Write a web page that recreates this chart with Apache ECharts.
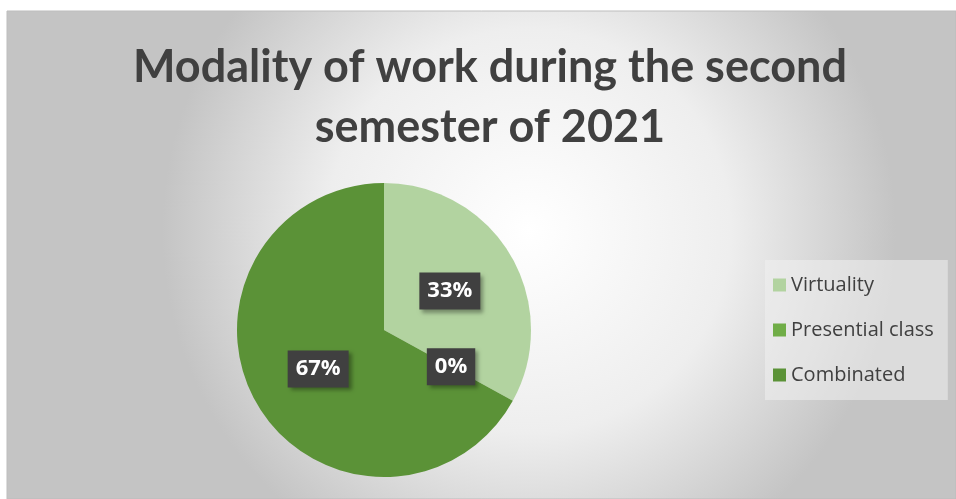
<!DOCTYPE html>
<html>
<head>
<meta charset="utf-8">
<script src="https://cdn.jsdelivr.net/npm/echarts@6/dist/echarts.min.js"></script>
<style>html,body{margin:0;padding:0;background:#fff}#c{width:956px;height:499px}</style>
</head>
<body>
<div id="c"></div>
<script>
const titleText = "Modality of work during the second\nsemester of 2021";
const categories = ["Virtuality", "Presential class", "Combinated"];
const values = [33, 0, 67];
const colors = ["#b2d3a0", "#70ad47", "#5b9237"];

const chart = echarts.init(document.getElementById('c'), null, {renderer: 'canvas'});
chart.setOption({
  animation: false,
  graphic: [{
    type: 'rect', z: -10, silent: true,
    shape: {x: 7, y: 11, width: 949, height: 488},
    style: {
      fill: new echarts.graphic.RadialGradient(0.55, 0.45, 0.75, [
        {offset: 0, color: '#ffffff'},
        {offset: 0.55, color: '#eeeeee'},
        {offset: 1, color: '#c4c4c4'}
      ]),
      stroke: '#bdbdbd', lineWidth: 1
    }
  }],
  title: {
    text: titleText,
    left: 485, top: 32, textAlign: 'center',
    textStyle: {fontFamily: 'Lato', fontWeight: 'bold', fontSize: 45, color: '#404040', lineHeight: 60}
  },
  legend: {
    orient: 'vertical',
    left: 765, top: 260,
    width: 185,
    backgroundColor: 'rgba(240,240,240,0.55)',
    padding: [14, 14, 14, 8],
    itemWidth: 13, itemHeight: 13,
    itemGap: 23,
    icon: 'rect',
    textStyle: {fontFamily: 'Open Sans', fontSize: 20, color: '#404040', lineHeight: 22},
    data: categories
  },
  series: [{
    type: 'pie',
    center: [384, 330],
    radius: 147,
    startAngle: 90,
    clockwise: true,
    avoidLabelOverlap: false,
    minShowLabelAngle: 0,
    stillShowZeroSum: true,
    itemStyle: {borderWidth: 0},
    label: {
      show: true,
      position: 'inside',
      formatter: p => p.value + '%',
      fontFamily: 'Open Sans', fontWeight: 'bold', fontSize: 22, color: '#ffffff',
      backgroundColor: '#404040',
      padding: [8, 8, 7, 8],
      shadowColor: 'rgba(0,0,0,0.35)', shadowBlur: 4, shadowOffsetX: 3, shadowOffsetY: 3
    },
    labelLine: {show: false},
    emphasis: {disabled: true},
    data: categories.map((c, i) => ({name: c, value: values[i], itemStyle: {color: colors[i]}}))
  }]
});
</script>
</body>
</html>
